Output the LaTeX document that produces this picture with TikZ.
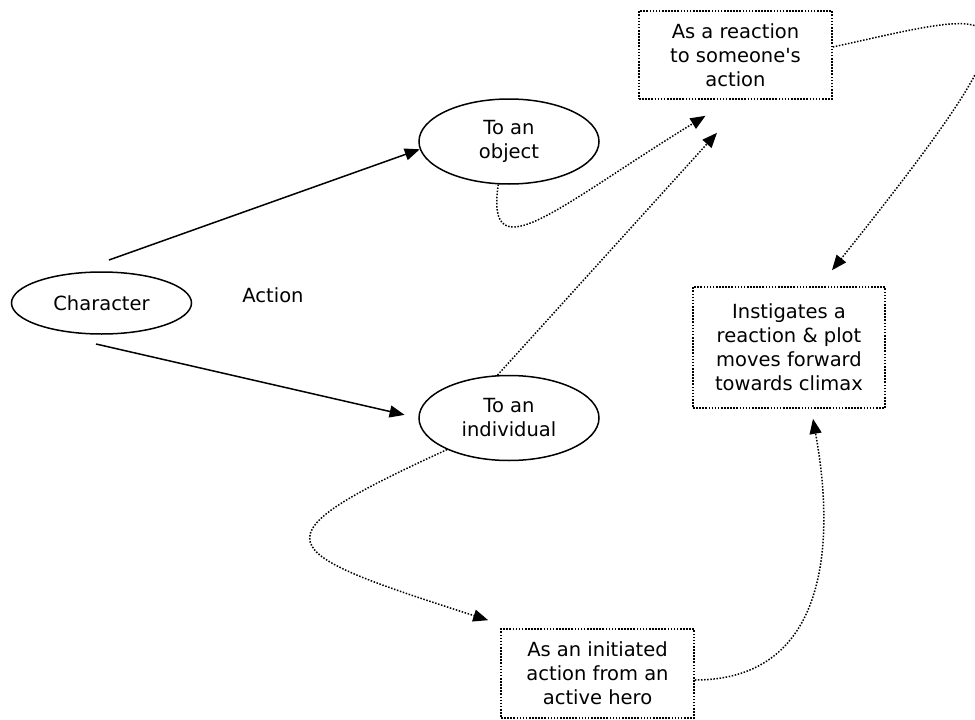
\documentclass[tikz,border=0pt]{standalone}
\usepackage{fontspec}
\setmainfont{DejaVu Sans}
\usetikzlibrary{shapes.geometric,arrows.meta,calc}
\begin{document}
\begin{tikzpicture}[x=1pt,y=-1pt,
  every node/.style={font=\fontsize{19.5}{24}\selectfont, align=center, inner sep=0pt},
  >={Triangle[length=15pt,width=12pt]},
  oval/.style={ellipse, draw, line width=1.5pt, minimum width=180pt, minimum height=85pt},
  dotbox/.style={draw, line width=1.6pt, dash pattern=on 1.6pt off 1.5pt,
                 minimum width=193pt, minimum height=88pt},
  solidarrow/.style={line width=1.5pt, ->},
  dotarrow/.style={line width=1.5pt, dash pattern=on 1.5pt off 1.6pt, ->}]

\path[use as bounding box, clip] (0,0) rectangle (975,720);

% nodes
\node[oval, minimum height=62pt] (char) at (101.5,303) {Character};
\node (action) at (273,295) {Action};
\node[oval] (obj) at (509,141.5) {To an\\object};
\node[oval] (ind) at (509,418) {To an\\individual};
\node[dotbox] (react) at (735.5,55) {As a reaction\\to someone\textquotesingle s\\action};
\node[dotbox, minimum width=192pt, minimum height=121pt] (instig) at (789,347.5)
  {Instigates a\\reaction \& plot\\moves forward\\towards climax};
\node[dotbox, minimum height=89pt] (init) at (597.5,673.5)
  {As an initiated\\action from an\\active hero};

% free ends of the connectors
\coordinate (s1) at (109,260);
\coordinate (s2) at (96,344);
\coordinate (t3) at ($(react.south)+(-30,16)$);
\coordinate (t4) at ($(react.south)+(-18.5,33)$);
\coordinate (s5) at ($(react.east)+(0,-8)$);
\coordinate (t5) at ($(instig.north)+(43,-16)$);
\coordinate (t6) at ($(init.north west)+(-12,-8)$);
\coordinate (s7) at ($(init.east)+(0,6.5)$);
\coordinate (t7) at ($(instig.south)+(24,10)$);

% solid connectors from the character
\draw[solidarrow] (s1) -- (obj.185);
\draw[solidarrow, shorten >=14pt] (s2) -- (ind.west);

% dotted connectors
\draw[dotarrow] (obj.256) .. controls (485,275) and (560,205) .. (t3);
\draw[dotarrow] (ind.105) -- (t4);
\draw[dotarrow] (s5) .. controls (1010,8) and (1060,-15) .. (t5);
\draw[dotarrow] (ind.207) .. controls (250,540) and (270,550) .. (t6);
\draw[dotarrow] (s7) .. controls (860,680) and (822,470) .. (t7);
\end{tikzpicture}
\end{document}
